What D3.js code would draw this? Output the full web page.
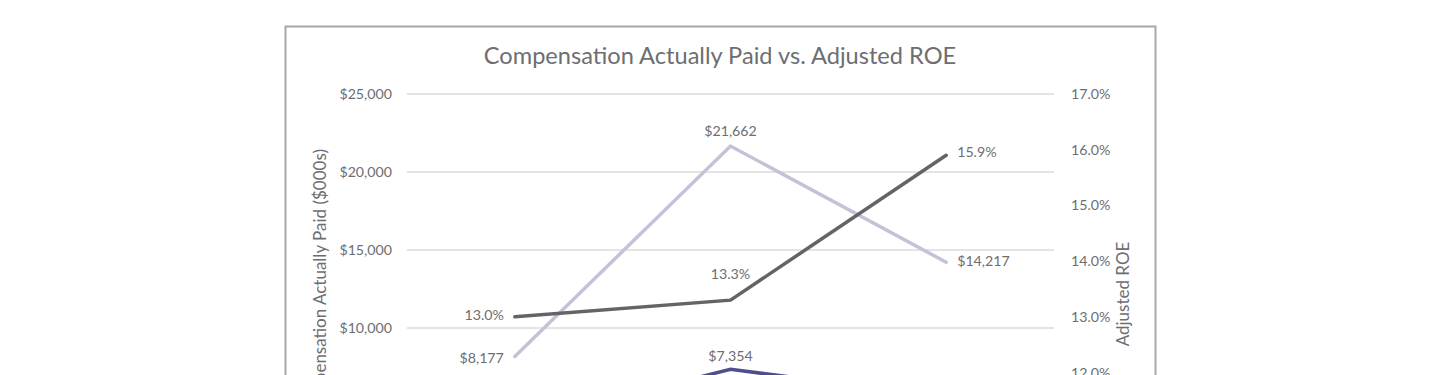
<!DOCTYPE html>
<html><head><meta charset="utf-8">
<script src="https://cdn.jsdelivr.net/npm/d3@7"></script>
<style>body{margin:0;background:#fff;}svg{display:block;font-family:Lato,"Noto Sans",sans-serif;}</style>
</head><body><svg id="c" width="1440" height="640"></svg>
<script>
const years = ["2021", "2022", "2023"];
const ceoCap = [8177, 21662, 14217];
const neoCap = [3880, 7354, 5560];
const adjRoe = [13.0, 13.3, 15.9];
const leftTicks = [0, 5000, 10000, 15000, 20000, 25000];
const rightTicks = [10, 11, 12, 13, 14, 15, 16, 17];
const seriesNames = ["CEO Compensation Actually Paid", "Average Other NEO Compensation Actually Paid", "Adjusted ROE"];

const svg = d3.select("#c");
const txt = "#6d6e71";
const L = 407, R = 1054, T = 94, B = 484;
const FF = "Lato,'Noto Sans',sans-serif";

svg.append("rect").attr("x", 285.5).attr("y", 26.5).attr("width", 870).attr("height", 590)
  .attr("fill", "none").attr("stroke", "#a7a8aa").attr("stroke-width", 2);

svg.append("text").attr("x", 720).attr("y", 64).attr("text-anchor", "middle")
  .attr("font-size", 23.6).attr("fill", txt).text("Compensation Actually Paid vs. Adjusted ROE");

const x = d3.scalePoint().domain(years).range([L, R]).padding(0.5);
const yL = d3.scaleLinear().domain([0, 25000]).range([B, T]);
const yR = d3.scaleLinear().domain([10, 17]).range([B, T]);

svg.append("g").selectAll("line").data(leftTicks).join("line")
  .attr("x1", L).attr("x2", R).attr("y1", d => yL(d)).attr("y2", d => yL(d))
  .attr("stroke", "#c8c8ca").attr("stroke-width", 1);

const axL = svg.append("g").attr("transform", `translate(${L},0)`)
  .call(d3.axisLeft(yL).tickValues(leftTicks).tickFormat(d => "$" + d3.format(",")(d)).tickSize(0).tickPadding(15));
const axR = svg.append("g").attr("transform", `translate(${R},0)`)
  .call(d3.axisRight(yR).tickValues(rightTicks).tickFormat(d => d.toFixed(1) + "%").tickSize(0).tickPadding(17));
const axX = svg.append("g").attr("transform", `translate(0,${B})`)
  .call(d3.axisBottom(x).tickSize(0).tickPadding(14));
[axL, axR, axX].forEach(a => {
  a.select(".domain").remove();
  a.selectAll("text").attr("fill", txt).attr("font-size", 14.2).attr("font-family", FF);
});

svg.append("text").attr("transform", "translate(326,283) rotate(-90)").attr("text-anchor", "middle")
  .attr("font-size", 17).attr("fill", txt).text("Compensation Actually Paid ($000s)");
svg.append("text").attr("transform", "translate(1129,294) rotate(-90)").attr("text-anchor", "middle")
  .attr("font-size", 17).attr("fill", txt).text("Adjusted ROE");

const lineL = d3.line().x((d, i) => x(years[i])).y(d => yL(d));
const lineR = d3.line().x((d, i) => x(years[i])).y(d => yR(d));
const cCeo = "#c5c2d8", cNeo = "#4f4e8c", cRoe = "#636466";

svg.append("path").datum(ceoCap).attr("d", lineL).attr("fill", "none").attr("stroke", cCeo).attr("stroke-width", 3.5).attr("stroke-linecap", "round");
svg.append("path").datum(neoCap).attr("d", lineL).attr("fill", "none").attr("stroke", cNeo).attr("stroke-width", 3.5).attr("stroke-linecap", "round");
svg.append("path").datum(adjRoe).attr("d", lineR).attr("fill", "none").attr("stroke", cRoe).attr("stroke-width", 3.5).attr("stroke-linecap", "round");

function lbl(xv, yv, t, anchor) {
  svg.append("text").attr("x", xv).attr("y", yv).attr("text-anchor", anchor)
    .attr("font-size", 14.2).attr("fill", txt).attr("dominant-baseline", "middle").text(t);
}
const fm = v => "$" + d3.format(",")(v);
lbl(x(years[0]) - 11, yL(ceoCap[0]) + 3, fm(ceoCap[0]), "end");
lbl(x(years[1]), yL(ceoCap[1]) - 14, fm(ceoCap[1]), "middle");
lbl(x(years[2]) + 11, yL(ceoCap[2]), fm(ceoCap[2]), "start");
lbl(x(years[0]) - 11, yL(neoCap[0]), fm(neoCap[0]), "end");
lbl(x(years[1]), yL(neoCap[1]) - 12, fm(neoCap[1]), "middle");
lbl(x(years[2]) + 11, yL(neoCap[2]), fm(neoCap[2]), "start");
lbl(x(years[0]) - 11, yR(adjRoe[0]), adjRoe[0].toFixed(1) + "%", "end");
lbl(x(years[1]), yR(adjRoe[1]) - 25, adjRoe[1].toFixed(1) + "%", "middle");
lbl(x(years[2]) + 11, yR(adjRoe[2]) - 2, adjRoe[2].toFixed(1) + "%", "start");

const cols = [cCeo, cNeo, cRoe];
const lg = svg.append("g").attr("transform", "translate(400,560)");
let off = 0;
seriesNames.forEach((n, i) => {
  const g = lg.append("g").attr("transform", `translate(${off},0)`);
  g.append("line").attr("x1", 0).attr("x2", 24).attr("y1", 0).attr("y2", 0).attr("stroke", cols[i]).attr("stroke-width", 3.5);
  const t = g.append("text").attr("x", 30).attr("y", 0).attr("dominant-baseline", "middle").attr("font-size", 14).attr("fill", txt).text(n);
  off += 30 + t.node().getComputedTextLength() + 28;
});
</script></body></html>
